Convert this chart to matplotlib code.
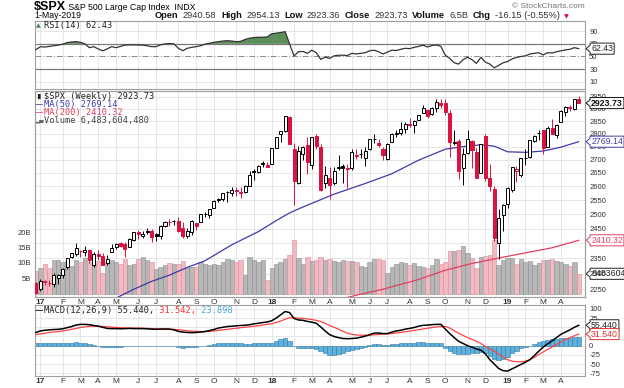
import numpy as np
import pandas as pd
import matplotlib
matplotlib.use("Agg")
import matplotlib.pyplot as plt
import matplotlib.transforms as mtransforms
from matplotlib.patches import Rectangle
from matplotlib.path import Path
from matplotlib.ticker import FixedLocator, NullLocator

# weekly bars of $SPX, first bar = week of 26-Dec-2016
week_start = "2016-12-26"
prev_close = 2263.8

opens = [2270, 2251, 2274, 2270, 2268, 2286, 2294, 2321, 2354, 2365,
         2375, 2372, 2379, 2329, 2363, 2357, 2333, 2370, 2389, 2400,
         2397, 2387, 2411, 2437, 2425, 2442, 2443, 2431, 2424, 2459,
         2473, 2475, 2478, 2454, 2425, 2440, 2470, 2474, 2502, 2496,
         2521, 2551, 2555, 2579, 2577, 2588, 2575, 2580, 2603, 2658,
         2653, 2686, 2680, 2684, 2746, 2799, 2810, 2867, 2741, 2614,
         2722, 2757, 2681, 2790, 2750, 2613, 2633, 2611, 2670, 2675,
         2668, 2670, 2718, 2723, 2705, 2742, 2780, 2765, 2742, 2704,
         2769, 2798, 2804, 2821, 2840, 2836, 2853, 2884, 2897, 2881,
         2903, 2926, 2926, 2882, 2764, 2773, 2670, 2727, 2773, 2730,
         2649, 2790, 2630, 2591, 2401, 2498, 2535, 2586, 2657, 2644,
         2706, 2712, 2770, 2804, 2815, 2747, 2823, 2796, 2848, 2888,
         2908, 2898, 2941]
highs = [2274, 2282, 2279, 2278, 2301, 2300, 2319, 2352, 2368, 2401,
         2378, 2390, 2382, 2371, 2378, 2366, 2362, 2399, 2400, 2404,
         2406, 2418, 2440, 2446, 2441, 2454, 2450, 2435, 2464, 2477,
         2484, 2480, 2490, 2474, 2454, 2480, 2471, 2500, 2509, 2520,
         2552, 2557, 2576, 2582, 2597, 2598, 2597, 2605, 2657, 2665,
         2680, 2695, 2692, 2744, 2787, 2808, 2873, 2870, 2763, 2754,
         2754, 2789, 2787, 2801, 2761, 2675, 2672, 2674, 2718, 2683,
         2682, 2742, 2742, 2742, 2747, 2779, 2801, 2778, 2747, 2764,
         2805, 2816, 2848, 2848, 2863, 2855, 2877, 2916, 2900, 2908,
         2941, 2940, 2940, 2894, 2816, 2779, 2744, 2815, 2775, 2746,
         2761, 2800, 2685, 2601, 2520, 2538, 2598, 2672, 2675, 2708,
         2740, 2776, 2794, 2814, 2817, 2830, 2860, 2837, 2894, 2911,
         2916, 2940, 2954]
lows = [2234, 2245, 2263, 2259, 2257, 2267, 2287, 2316, 2352, 2358,
        2354, 2356, 2335, 2322, 2344, 2328, 2327, 2370, 2380, 2387,
        2353, 2386, 2409, 2415, 2419, 2431, 2406, 2407, 2416, 2455,
        2461, 2464, 2437, 2417, 2417, 2429, 2447, 2474, 2489, 2488,
        2521, 2543, 2547, 2544, 2566, 2566, 2557, 2576, 2600, 2624,
        2651, 2674, 2673, 2683, 2743, 2768, 2808, 2759, 2533, 2608,
        2697, 2647, 2666, 2741, 2585, 2594, 2553, 2605, 2660, 2612,
        2594, 2662, 2701, 2707, 2676, 2737, 2764, 2748, 2698, 2698,
        2769, 2789, 2796, 2805, 2825, 2802, 2853, 2883, 2864, 2874,
        2886, 2903, 2874, 2710, 2755, 2628, 2604, 2723, 2670, 2631,
        2649, 2621, 2583, 2409, 2347, 2443, 2524, 2580, 2617, 2634,
        2681, 2706, 2766, 2775, 2723, 2747, 2800, 2785, 2848, 2873,
        2893, 2897, 2923]
closes = [2239, 2277, 2275, 2271, 2295, 2297, 2316, 2351, 2367, 2383,
          2373, 2378, 2344, 2363, 2356, 2329, 2349, 2384, 2399, 2391,
          2382, 2416, 2439, 2432, 2433, 2438, 2423, 2425, 2459, 2473,
          2472, 2477, 2441, 2426, 2443, 2477, 2461, 2500, 2502, 2519,
          2549, 2553, 2575, 2581, 2588, 2582, 2579, 2602, 2642, 2652,
          2676, 2683, 2674, 2743, 2786, 2810, 2873, 2762, 2620, 2732,
          2747, 2691, 2787, 2752, 2588, 2641, 2604, 2656, 2670, 2670,
          2663, 2728, 2713, 2721, 2735, 2779, 2779, 2755, 2718, 2760,
          2801, 2802, 2819, 2840, 2833, 2850, 2875, 2902, 2872, 2905,
          2930, 2914, 2886, 2767, 2768, 2659, 2723, 2781, 2736, 2633,
          2760, 2633, 2600, 2417, 2486, 2532, 2596, 2671, 2665, 2707,
          2708, 2776, 2793, 2804, 2743, 2822, 2801, 2834, 2893, 2907,
          2905, 2940, 2924]
# weekly volume, billions
volume_b = [7.5, 8.2, 9.6, 8.2, 10.9, 11.1, 10.4, 10.7, 9.0, 11.1,
            10.4, 11.7, 10.4, 9.8, 10.6, 6.8, 10.4, 11.1, 10.4, 9.6,
            11.3, 9.3, 9.8, 11.4, 12.0, 10.9, 10.4, 8.0, 8.7, 9.4,
            9.9, 9.6, 9.8, 10.6, 8.8, 8.6, 8.7, 10.3, 9.7, 9.3,
            9.5, 9.3, 10.2, 11.3, 11.0, 10.4, 11.0, 6.0, 12.0, 11.0,
            10.4, 11.0, 4.4, 8.2, 9.8, 10.4, 11.4, 12.6, 17.5, 11.6,
            9.5, 11.8, 10.5, 11.0, 11.8, 10.8, 11.4, 10.5, 10.3, 10.8,
            10.7, 10.5, 10.2, 9.0, 8.6, 10.3, 11.4, 11.2, 10.9, 6.9,
            8.8, 9.5, 10.2, 9.9, 9.2, 9.9, 8.9, 8.6, 8.2, 9.4,
            11.4, 9.5, 10.2, 14.0, 13.8, 14.2, 15.4, 13.2, 11.7, 8.4,
            11.8, 12.2, 12.6, 17.5, 9.3, 11.1, 11.5, 11.6, 9.6, 11.2,
            10.2, 10.5, 9.2, 10.0, 11.0, 10.8, 11.4, 10.7, 10.4, 9.7,
            8.9, 10.4, 6.5]
rsi = [61, 65.5, 65, 66, 67, 68, 69.5, 72, 73, 73.5,
       72.5, 70, 64, 65.6, 62, 59, 62, 65.6, 64, 66,
       68, 68.5, 68.3, 68.3, 68, 67, 65.6, 65.6, 68.5, 70,
       70.5, 70, 63, 59.2, 63, 64.5, 65.6, 67, 69.5, 71,
       72.5, 73.5, 74.5, 75, 74.5, 73.5, 74, 77, 79, 80,
       80.5, 80.5, 81, 86, 87, 88, 89.4, 70, 50.8, 57.6,
       58, 55, 60, 56, 45.5, 49, 47, 51, 52, 52,
       51.5, 55, 54, 55, 56, 59, 60, 57.5, 54, 57,
       60, 59.5, 61.5, 63, 62.5, 64.5, 66, 68, 65, 67.5,
       68.3, 66, 52, 47, 40, 38, 45, 48.7, 45, 39,
       48.7, 41, 38, 32, 36, 40, 42, 46, 48.5, 50,
       51, 54, 55, 56, 52.4, 56, 55.5, 57.5, 59, 60.5,
       61.4, 64, 62.43]
macd = [36, 40, 42, 43, 44, 44.5, 46, 49, 52, 56,
        58, 58, 57, 55, 53, 50, 47, 46.5, 46.5, 46,
        46.5, 47, 46.5, 46.5, 46.5, 46, 45, 44.6, 45, 45.5,
        45, 43, 39, 37, 36, 35.5, 36, 37, 38.5, 41,
        44, 48, 50, 52, 53, 54, 55, 55.5, 57, 59.5,
        61, 63, 64.5, 68, 75, 84, 93, 90, 74, 70,
        69, 66, 64, 61, 51, 40, 30, 25, 22, 19.5,
        19, 19.5, 20.5, 23, 26, 30, 34, 34.5, 33, 33,
        37, 40, 42, 45, 47, 49.5, 53, 55.4, 56, 57.3,
        58, 58, 45, 33, 22, 12, 6, 0, -4, -9,
        -12, -22, -38, -50, -62, -68, -69, -63, -57, -51,
        -45, -38, -27, -15, -4, 5, 13, 22, 31, 37,
        43, 50, 55.44]
signal = [30, 32, 34, 36, 37.5, 38.5, 40, 42, 44.5, 47,
          49.5, 51, 52.5, 53, 53, 52.5, 51.5, 50.5, 49.5, 49,
          48.5, 48, 48, 48, 47.5, 47, 46.5, 46, 45.5, 45.5,
          45, 44.5, 43.5, 42, 40.5, 39.5, 39, 38.5, 38.5, 39,
          40, 41.5, 43, 44.5, 46, 47.5, 49, 50, 51.5, 53,
          54.5, 56, 58, 60, 63, 67, 72, 76, 76, 75,
          74, 73, 71, 69, 66, 61, 55, 50, 45, 39,
          34, 31, 29, 28.5, 28.4, 28.5, 29.5, 30.5, 31.5, 32,
          33, 34.5, 36, 38, 39.5, 41.5, 43.5, 45.5, 47.5, 49.5,
          51, 52, 52.5, 48, 41, 34, 28, 22, 17, 12,
          6, -2, -9, -15, -23, -31, -38, -42, -43.5, -43.8,
          -42, -38, -32, -24, -17, -10, -4, 3, 10, 16.8,
          22, 27, 31.54]
ma50_weeks = [0, 8, 14, 18, 22, 26, 30, 34, 38, 44, 50, 54, 57, 60, 67, 74,
              80, 86, 92, 96, 100, 103, 106, 110, 114, 118, 122]
ma50 = [2140, 2165, 2190, 2222, 2250, 2275, 2295, 2320, 2342, 2395, 2440,
        2478, 2505, 2526, 2572, 2611, 2647, 2698, 2740, 2750, 2757, 2752,
        2730, 2728, 2733, 2748, 2769.14]
ma200_weeks = [60, 66, 72, 78, 86, 92, 98, 104, 110, 116, 122]
ma200 = [2190, 2210, 2231, 2250, 2281, 2311, 2333, 2351, 2368, 2385, 2410.32]

price_ticks = list(range(2250, 2951, 50))
rsi_ticks = [10, 30, 50, 70, 90]
macd_ticks = [-75, -50, -25, 0, 25, 50, 75, 100]
vol_ticks = [5, 10, 15, 20]

RED = "#d9123f"
GRID = "#e2e2e2"
EDGE = "#a0a0a0"
W, H = 624, 388
SANS = "Liberation Sans"
MONO = "DejaVu Sans Mono"

n = len(closes)
x = np.arange(n)
dates = pd.date_range(week_start, periods=n, freq="7D")
month_idx = [i for i in range(1, n) if dates[i].month != dates[i - 1].month]
month_lab = [dates[i].strftime("%y") if dates[i].month == 1 else dates[i].strftime("%b")[0]
             for i in month_idx]

fig = plt.figure(figsize=(W / 100, H / 100), dpi=100)


def px_rect(left, top, right, bottom):
    return [left / W, 1 - bottom / H, (right - left) / W, (bottom - top) / H]


L, R = 35, 585
ax_rsi = fig.add_axes(px_rect(L, 21, R, 88.5))
ax_v = fig.add_axes(px_rect(L, 90.5, R, 296.5))
ax = ax_v.twinx()
ax_m = fig.add_axes(px_rect(L, 304.5, R, 376))

for a in (ax_rsi, ax_v, ax, ax_m):
    a.set_xlim(-0.22, 123.4)
    for s in a.spines.values():
        s.set_color(EDGE)
        s.set_linewidth(0.8)
    a.tick_params(length=0, labelsize=5.5, colors="#333333")

# month grid + labels
for a in (ax_rsi, ax_v, ax_m):
    a.set_xticks(month_idx)
    a.grid(axis="x", color=GRID, lw=0.6)
    a.set_axisbelow(True)
ax_rsi.set_xticklabels([])
for a in (ax_v, ax_m):
    a.set_xticklabels(month_lab, fontsize=6, family=SANS)
    a.tick_params(axis="x", pad=1.5)
    for t in a.get_xticklabels():
        if t.get_text().isdigit():
            t.set_fontweight("bold")

# ---- RSI panel
ax_rsi.set_ylim(-0.8, 106.3)
ax_rsi.yaxis.tick_right()
ax_rsi.set_yticks(rsi_ticks)
ax_rsi.set_yticklabels([str(t) for t in rsi_ticks], family=SANS)
ax_rsi.tick_params(axis="y", pad=3)
for t in (10, 90):
    ax_rsi.axhline(t, color=GRID, lw=0.6, zorder=0)
ax_rsi.axhline(70, color="#7a7a7a", lw=0.9, zorder=1)
ax_rsi.axhline(30, color="#7a7a7a", lw=0.9, zorder=1)
ax_rsi.axhline(50, color="#8a8a8a", lw=0.7, dashes=(6, 2, 1, 2), zorder=1)
rsi_arr = np.array(rsi)
ax_rsi.fill_between(x, rsi_arr, 70, where=rsi_arr >= 70, interpolate=True,
                    color="#5d8f5d", lw=0, zorder=2)
ax_rsi.plot(x, rsi_arr, color="#333333", lw=0.9, zorder=3)

# ---- volume (behind) + price
ax_v.set_ylim(-0.88, 65.9)
ax_v.set_yticks(vol_ticks)
ax_v.set_yticklabels([f"{v}B" for v in vol_ticks], family=SANS)
ax_v.tick_params(axis="y", pad=3)
tr = mtransforms.blended_transform_factory(ax_v.transAxes, ax.transData)
for p in price_ticks:
    ax_v.plot([0, 1], [p, p], transform=tr, color=GRID, lw=0.6, zorder=0)
vcol, vedge = [], []
for i in range(n):
    prev = closes[i - 1] if i else prev_close
    up = closes[i] >= prev
    vcol.append("#b7b7b7" if up else "#f1b9c1")
    vedge.append("#8e8e8e" if up else "#da8f9c")
ax_v.bar(x, volume_b, width=1.0, color=vcol, edgecolor=vedge, lw=0.4, zorder=1)

ax.set_yscale("log")
ax.set_ylim(2227, 2976)
ax.yaxis.set_major_locator(FixedLocator(price_ticks))
ax.yaxis.set_minor_locator(NullLocator())
ax.set_yticklabels([str(p) for p in price_ticks], family=SANS)
ax.tick_params(axis="y", pad=3, length=0, which="both")

ax.plot(ma50_weeks, ma50, color="#3c3caa", lw=0.9, zorder=2)
ax.plot(ma200_weeks, ma200, color="#e0405e", lw=0.9, zorder=2)
for i in range(n):
    o, h, l, c = opens[i], highs[i], lows[i], closes[i]
    prev = closes[i - 1] if i else prev_close
    col = RED if c < prev else "black"
    ax.vlines(x[i], l, h, color=col, lw=0.7, zorder=3)
    lo, hi = min(o, c), max(o, c)
    face = col if c < o else "white"
    ax.add_patch(Rectangle((x[i] - 0.34, lo), 0.68, max(hi - lo, 0.5),
                           facecolor=face, edgecolor=col, lw=0.7, zorder=4))

# ---- MACD panel
hist = np.array(macd) - np.array(signal)
ax_m.set_ylim(-82.4, 112)
ax_m.yaxis.tick_right()
ax_m.set_yticks(macd_ticks)
ax_m.set_yticklabels([str(t) for t in macd_ticks], family=SANS)
ax_m.tick_params(axis="y", pad=3)
for t in macd_ticks:
    ax_m.axhline(t, color=GRID, lw=0.6, zorder=0)
ax_m.bar(x, hist, width=1.0, color="#5fb0da", edgecolor="#2f7aa6", lw=0.4, zorder=1)
ax_m.plot(x, signal, color="#ff4343", lw=0.9, zorder=2)
ax_m.plot(x, macd, color="black", lw=1.1, zorder=3)


# ---- value tags on the right (box with a small left point)
def tag_box(x0, y0, width, height, mutation_size):
    pad = 0.12 * mutation_size
    x0, y0 = x0 - pad, y0 - pad
    x1, y1 = x0 + width + 2 * pad, y0 + height + 2 * pad
    ym, d = (y0 + y1) / 2, (y1 - y0) * 0.3
    verts = [(x0, y0), (x1, y0), (x1, y1), (x0, y1), (x0, ym + d),
             (x0 - 1.2 * d, ym), (x0, ym - d), (x0, y0)]
    return Path(verts, closed=True)


def tag(a, y, txt, col, weight="normal", trans="data"):
    a.annotate(txt, xy=(1.0, y), xycoords=("axes fraction", trans),
               xytext=(4.4, 0), textcoords="offset points", va="center", ha="left",
               fontsize=6.3, family=SANS, color=col, fontweight=weight,
               annotation_clip=False, zorder=10,
               bbox=dict(boxstyle=tag_box, fc="white", ec=col, lw=0.7))


tag(ax_rsi, rsi[-1], f"{rsi[-1]:.2f}", "#222222")
tag(ax, closes[-1] - 0.27, "2923.73", "#111111", weight="bold")
tag(ax, ma50[-1], f"{ma50[-1]:.2f}", "#3c3caa")
tag(ax, ma200[-1], f"{ma200[-1]:.2f}", "#e0405e")
tag(ax_v, volume_b[-1] - 0.02, "6483604480", "#222222")
tag(ax_m, macd[-1], f"{macd[-1]:.3f}", "#222222")
tag(ax_m, signal[-1], f"{signal[-1]:.3f}", "#e03030")


# ---- header and legends
renderer = fig.canvas.get_renderer()


def text_row(x_px, y_px, pieces, gap=0.0):
    xp = x_px
    for s, kw in pieces:
        t = fig.text(xp / W, 1 - y_px / H, s, va="baseline", ha="left", **kw)
        xp += t.get_window_extent(renderer).width + gap
    return xp


text_row(34, 9.5, [("$SPX", dict(fontsize=9, fontweight="bold", family=SANS)),
                   (" S&P 500 Large Cap Index  INDX", dict(fontsize=6.3, family=SANS))])
fig.text(34 / W, 1 - 18.5 / H, "1-May-2019", fontsize=6.3, family=SANS, va="baseline")
bold = dict(fontsize=6.7, family=SANS, fontweight="bold", color="#111111")
norm = dict(fontsize=6.7, family=SANS, color="#333333")
xe = text_row(155, 18.5, [("Open", bold), ("2940.58", norm), ("High", bold), ("2954.13", norm),
                          ("Low", bold), ("2923.36", norm), ("Close", bold), ("2923.73", norm),
                          ("Volume", bold), ("6.5B", norm), ("Chg", bold),
                          ("-16.15 (-0.55%)", norm)], gap=4.4)
fig.text((xe - 1) / W, 1 - 18.5 / H, "\u25bc", fontsize=4.5, color=RED, va="baseline")
fig.text(585 / W, 1 - 8.5 / H, "\u00a9 StockCharts.com", fontsize=6, family=SANS,
         color="#777777", ha="right", va="baseline")

leg = dict(fontsize=6.2, family=MONO, va="center")
fig.text(36 / W, 1 - 25.5 / H, "\u25b2", fontsize=4.5, color="#4f7f4f", va="center")
fig.text(44 / W, 1 - 25.5 / H, "RSI(14) 62.43", color="#222222", **leg)
fig.text(35.5 / W, 1 - 96.5 / H, "\u2590\u258c", fontsize=3.5, color="#222222", va="center")
fig.text(44 / W, 1 - 96.5 / H, "$SPX (Weekly) 2923.73", color="#222222", **leg)
fig.text(35 / W, 1 - 104.5 / H, "\u2014", fontsize=6, color="#3c3caa", va="center")
fig.text(44 / W, 1 - 104.5 / H, "MA(50) 2769.14", color="#3c3caa", **leg)
fig.text(35 / W, 1 - 112.7 / H, "\u2014", fontsize=6, color="#e0405e", va="center")
fig.text(44 / W, 1 - 112.7 / H, "MA(200) 2410.32", color="#e0405e", **leg)
fig.text(35.5 / W, 1 - 120.9 / H, "\u2582\u2584", fontsize=4, color="#666666", va="center")
fig.text(44 / W, 1 - 120.9 / H, "Volume 6,483,604,480", color="#444444", **leg)
fig.text(35 / W, 1 - 310.5 / H, "\u2014", fontsize=6, color="black", va="center")
text_row(44, 312.6, [("MACD(12,26,9) 55.440,", dict(fontsize=6.2, family=MONO, color="#222222")),
                     (" 31.542,", dict(fontsize=6.2, family=MONO, color="#ff3030")),
                     (" 23.898", dict(fontsize=6.2, family=MONO, color="#4aa8d8"))])

fig.savefig("out.png", dpi=100)
